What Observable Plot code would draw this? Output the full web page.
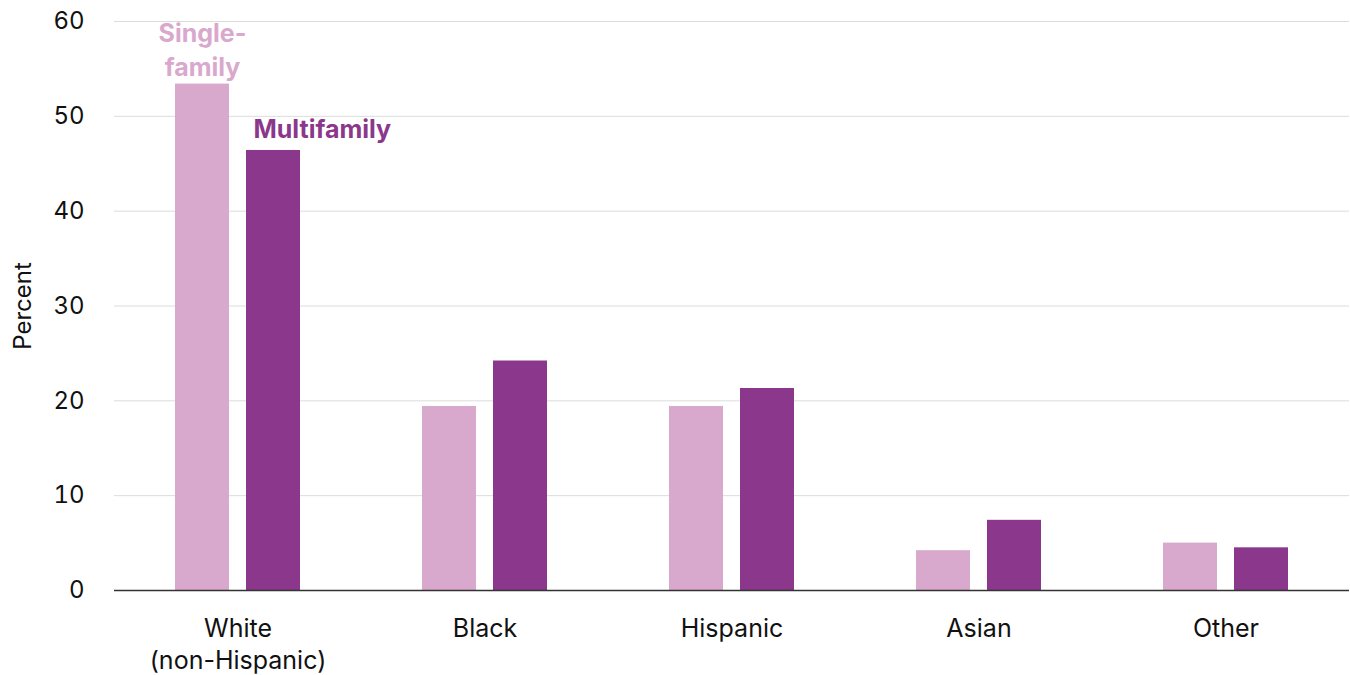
<!DOCTYPE html>
<html>
<head>
<meta charset="utf-8">
<script src="https://cdn.jsdelivr.net/npm/d3@7"></script>
<script src="https://cdn.jsdelivr.net/npm/@observablehq/plot@0.6"></script>
<style>
  html, body { margin: 0; padding: 0; background: #fff; }
  #chart svg { display: block; }
</style>
</head>
<body>
<div id="chart"></div>
<script>
const categories = ["White\n(non-Hispanic)", "Black", "Hispanic", "Asian", "Other"];
const series = ["Single-family", "Multifamily"];
const seriesLabels = ["Single-\nfamily", "Multifamily"];
const singleFamily = [53.4, 19.4, 19.4, 4.2, 5.0];
const multifamily = [46.4, 24.2, 21.3, 7.4, 4.5];
const yTicks = [0, 10, 20, 30, 40, 50, 60];
const colors = ["#d9a9cd", "#8b378b"];

const data = [];
categories.forEach((c, i) => {
  data.push({category: c, series: series[0], value: singleFamily[i]});
  data.push({category: c, series: series[1], value: multifamily[i]});
});

const labelSingle = [{category: categories[0], series: series[0], value: singleFamily[0], label: seriesLabels[0]}];
const labelMulti = [{category: categories[0], series: series[1], value: multifamily[0], label: seriesLabels[1]}];

const font = "Inter, 'DejaVu Sans', sans-serif";

const chart = Plot.plot({
  width: 1350,
  height: 675,
  marginLeft: 113,
  marginRight: 0,
  marginTop: 21,
  marginBottom: 85,
  style: {fontFamily: font, color: "#111", background: "#fff"},
  fx: {domain: categories, padding: 0, label: null},
  x: {domain: series, paddingInner: 0.24, paddingOuter: 0.85, axis: null},
  y: {domain: [0, 60], label: null},
  color: {domain: series, range: colors},
  marks: [
    Plot.gridY(yTicks.slice(1), {stroke: "#dcdcdc", strokeOpacity: 1, strokeWidth: 1}),
    Plot.axisY(yTicks, {tickSize: 0, tickPadding: 30, fontSize: 24, label: "Percent", labelAnchor: "center", labelArrow: "none", labelOffset: 101}),
    Plot.axisFx({anchor: "bottom", tickSize: 0, tickPadding: 24, fontSize: 25, label: null, lineAnchor: "top", lineHeight: 1.28}),
    Plot.barY(data, {fx: "category", x: "series", y: "value", fill: "series"}),
    Plot.ruleY([0], {stroke: "#333", strokeWidth: 1.5}),
    Plot.text(labelSingle, {fx: "category", x: "series", y: "value", text: "label", fill: colors[0], fontWeight: "bold", fontSize: 25, lineAnchor: "bottom", dy: -8, lineHeight: 1.36}),
    Plot.text(labelMulti, {fx: "category", x: "series", y: "value", text: "label", fill: colors[1], fontWeight: "bold", fontSize: 25, lineAnchor: "bottom", textAnchor: "start", dx: -20, dy: -12})
  ]
});

document.getElementById("chart").appendChild(chart);
</script>
</body>
</html>
